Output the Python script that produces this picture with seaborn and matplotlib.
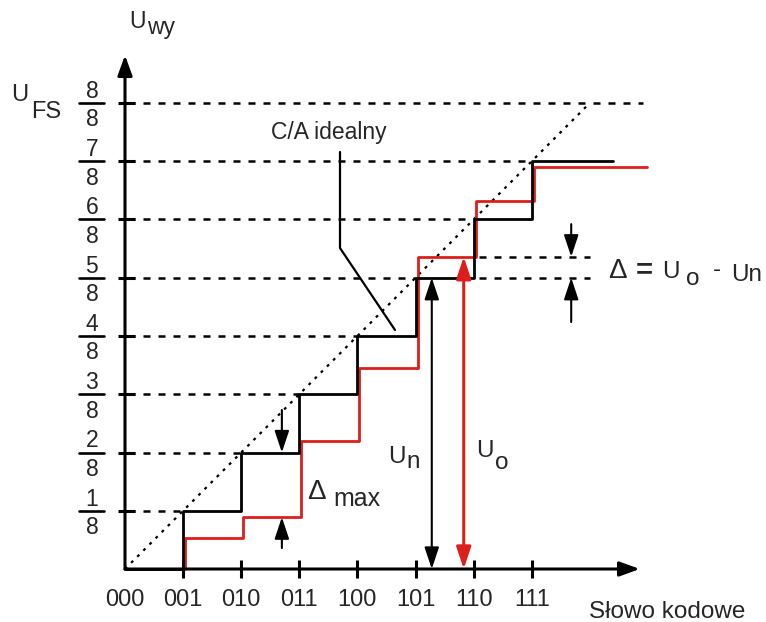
import numpy as np
import pandas as pd
import matplotlib
matplotlib.use("Agg")
import matplotlib.pyplot as plt
import matplotlib.transforms as mtransforms
import seaborn as sns

# --- dane charakterystyki przetwornika C/A (3 bity) ---
codes = ["000", "001", "010", "011", "100", "101", "110", "111"]
ideal_levels = [0, 1, 2, 3, 4, 5, 6, 7]          # w jednostkach U_FS/8
real_levels = [0, 0.53, 0.89, 2.2, 3.45, 5.36, 6.32, 6.9]
ideal_end = 8.4
real_end = 8.95
fs_level = 8
fs_line_end = 8.92
level_numerators = ["1", "2", "3", "4", "5", "6", "7", "8"]

# przykład błędu dla słowa 101
un_value = 5.0
uo_value = 5.36
un_pos = 5.28
uo_pos = 5.83
delta_pos = 7.68
delta_lines = (6.1, 8.0)
# delta max
dmax_pos = 2.70
dmax_top = 2.0
dmax_bottom = 0.89

RED = "#dc1f1c"
PX_X = 58.1
PX_Y = 58.25


def px(xp, yp):
    # pozycja w pikselach obrazka -> współrzędne danych
    return (xp - 125) / PX_X, (569 - yp) / PX_Y


sns.set_style("white")
plt.rcParams["font.family"] = ["Liberation Sans", "DejaVu Sans"]

fig = plt.figure(figsize=(7.66, 6.22), dpi=100)
ax = fig.add_axes([0, 0, 1, 1])

x = np.arange(len(codes))
levels = np.arange(1, fs_level + 1)

# linie przerywane poziomów k/8
for k in levels:
    end = fs_line_end if k == fs_level else k
    ax.plot([0.06, end], [k, k], color="black", lw=1.8,
            linestyle=(0, (2.8, 3.2)), zorder=1)

# linie pomocnicze dla delta
for lv in (un_value, uo_value):
    ax.plot(delta_lines, [lv, lv], color="black", lw=1.8,
            linestyle=(0, (2.8, 3.2)), zorder=1)

# charakterystyka idealna (przekątna)
ax.plot([0, fs_level], [0, fs_level], color="black", lw=1.6,
        linestyle=(0, (1.3, 2.6)), zorder=1)

# schodki: rzeczywista (czerwona) i idealna (czarna)
ideal_df = pd.DataFrame({"x": list(x) + [ideal_end],
                         "y": ideal_levels + [ideal_levels[-1]]})
real_df = pd.DataFrame({"x": list(x) + [real_end],
                        "y": real_levels + [real_levels[-1]]})

sns.lineplot(data=real_df, x="x", y="y", drawstyle="steps-post", color=RED,
             lw=2.0, ax=ax, zorder=3, estimator=None)
ax.lines[-1].set_transform(ax.transData + mtransforms.ScaledTranslation(
    2 / 100, 0, fig.dpi_scale_trans))
sns.lineplot(data=ideal_df, x="x", y="y", drawstyle="steps-post",
             color="black", lw=2.0, ax=ax, zorder=4, estimator=None)
ax.set_xlim(-125 / PX_X, 641 / PX_X)
ax.set_ylim(-53 / PX_Y, 569 / PX_Y)
ax.axis("off")

# osie ze strzałkami
axis_arrow = dict(arrowstyle="-|>,head_length=0.55,head_width=0.2",
                  mutation_scale=22, lw=2.2, color="black",
                  shrinkA=0, shrinkB=0)
ax.annotate("", xy=(0, 8.82), xytext=(0, 0), arrowprops=axis_arrow, zorder=6)
ax.annotate("", xy=(8.86, 0), xytext=(0, 0), arrowprops=axis_arrow, zorder=6)

# znaczniki
ax.vlines(x[1:], -0.15, 0.15, color="black", lw=2.2, zorder=6)
ax.hlines(levels, -0.12, 0.17, color="black", lw=2.2, zorder=6)

# etykiety słów kodowych
for xi, c in zip(x, codes):
    ax.text(xi, -0.63, c, fontsize=17, ha="center", va="baseline")

# ułamki k/8 na osi pionowej
fx = -0.57
for k, num in zip(levels, level_numerators):
    ax.plot([fx - 0.215, fx + 0.215], [k, k], color="black", lw=1.9)
    ax.text(fx, k + 0.09, num, fontsize=16.5, ha="center", va="baseline")
    ax.text(fx, k - 0.40, "8", fontsize=16.5, ha="center", va="baseline")

# strzałki U_n, U_o
dbl = dict(arrowstyle="<|-|>,head_length=0.6,head_width=0.2",
           mutation_scale=22, lw=1.5, shrinkA=0, shrinkB=0)
ax.annotate("", xy=(un_pos, un_value), xytext=(un_pos, 0),
            arrowprops=dict(dbl, color="black"), zorder=5)
ax.annotate("", xy=(uo_pos, uo_value), xytext=(uo_pos, 0),
            arrowprops=dict(dbl, color=RED, lw=2.2), zorder=5)

# strzałki delta oraz delta max
single = dict(arrowstyle="-|>,head_length=0.6,head_width=0.2",
              mutation_scale=22, lw=1.5, color="black", shrinkA=0, shrinkB=0)
ax.annotate("", xy=(delta_pos, uo_value), xytext=(delta_pos, 5.92),
            arrowprops=single, zorder=5)
ax.annotate("", xy=(delta_pos, un_value), xytext=(delta_pos, 4.24),
            arrowprops=single, zorder=5)
ax.annotate("", xy=(dmax_pos, dmax_top), xytext=(dmax_pos, 2.73),
            arrowprops=single, zorder=5)
ax.annotate("", xy=(dmax_pos, dmax_bottom), xytext=(dmax_pos, 0.36),
            arrowprops=single, zorder=5)

# odnośnik "C/A idealny"
ax.plot(*zip(px(340, 152), px(340, 248), px(395, 330)), color="black", lw=1.6)


# teksty
def t(xp, yp, s, size, **kw):
    ax.text(*px(xp, yp), s, fontsize=size, ha="left", va="baseline", **kw)


t(129, 28, "U", 16.5)
t(147, 34, "wy", 16.5)
t(11, 101, "U", 17)
t(31, 118, "FS", 17)
t(271, 139, "C/A idealny", 16.5)
t(307, 499, "Δ", 20)
t(333, 506, "max", 18)
t(388, 463, "U", 17.5)
t(406, 468, "n", 17.5)
t(476, 457, "U", 17.5)
t(495, 469, "o", 17.5)
t(608, 278, "Δ", 20)
t(636, 278, "=", 21, fontweight="bold")
t(662, 278, "U", 17.5)
t(686, 285, "o", 17.5)
t(713, 276, "-", 17.5)
t(731, 281, "Un", 17.5)
t(589, 618, "Słowo kodowe", 17.5)

fig.savefig("out.png", dpi=100)
